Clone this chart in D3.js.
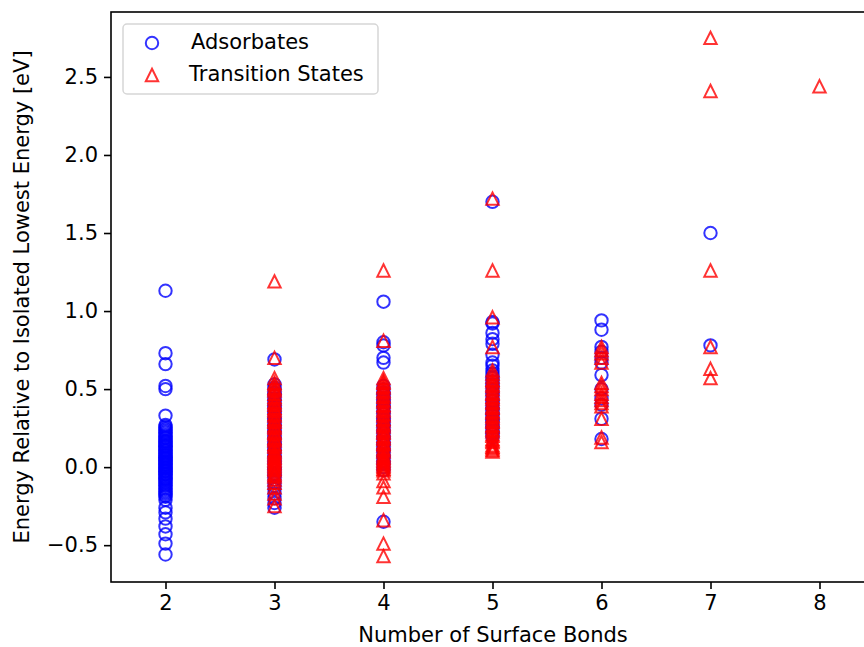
<!DOCTYPE html>
<meta charset="utf-8">
<script src="https://d3js.org/d3.v7.min.js"></script>
<style>
  body { margin: 0; background: #fff; }
  text { font-family: "DejaVu Sans", sans-serif; }
</style>
<div id="chart"></div>
<script>

// energies relative to isolated lowest energy [eV], grouped by number of surface bonds
var ads2 = [1.13, 0.73, 0.66, 0.52, 0.50, 0.33, 0.27, 0.26, 0.25, 0.24, 0.23, 0.22, 0.21, 0.20, 0.19, 0.185,
            0.17, 0.165, 0.16, 0.15, 0.14, 0.135, 0.13, 0.12, 0.11, 0.105, 0.10, 0.09, 0.08, 0.075, 0.07,
            0.06, 0.055, 0.05, 0.04, 0.035, 0.03, 0.02, 0.015, 0.01, 0.00, -0.005, -0.01, -0.02, -0.025,
            -0.03, -0.04, -0.045, -0.05, -0.06, -0.07, -0.075, -0.08, -0.09, -0.10, -0.11, -0.12, -0.13,
            -0.14, -0.15, -0.16, -0.17, -0.18, -0.19, -0.21, -0.26, -0.29, -0.33, -0.38, -0.43, -0.49, -0.56];
var ads3 = [0.69, 0.53, 0.51, 0.50, 0.48, 0.47, 0.46, 0.44, 0.43, 0.42, 0.40, 0.39, 0.38, 0.36, 0.35, 0.34,
            0.32, 0.31, 0.30, 0.28, 0.27, 0.26, 0.24, 0.23, 0.22, 0.20, 0.19, 0.18, 0.16, 0.15, 0.14, 0.12,
            0.11, 0.10, 0.08, 0.07, 0.06, 0.04, 0.03, 0.02, 0.00, -0.01, -0.02, -0.04, -0.05, -0.06, -0.08,
            -0.10, -0.12, -0.14, -0.17, -0.20, -0.23, -0.26];
var ads4 = [1.06, 0.80, 0.78, 0.70, 0.67, 0.52, 0.50, 0.48, 0.47, 0.46, 0.44, 0.43, 0.42, 0.40, 0.39, 0.38,
            0.36, 0.35, 0.34, 0.32, 0.31, 0.30, 0.28, 0.27, 0.26, 0.24, 0.23, 0.22, 0.20, 0.19, 0.18, 0.16,
            0.15, 0.14, 0.12, 0.11, 0.10, 0.08, 0.07, 0.06, 0.04, 0.03, 0.02, 0.00, -0.02, -0.35];
var ads5 = [1.70, 0.93, 0.92, 0.86, 0.82, 0.79, 0.72, 0.67, 0.65, 0.62, 0.60, 0.58, 0.57, 0.55, 0.53, 0.52,
            0.50, 0.48, 0.47, 0.45, 0.43, 0.42, 0.40, 0.38, 0.37, 0.35, 0.34, 0.33, 0.31, 0.30, 0.29, 0.27,
            0.26, 0.25, 0.23, 0.22, 0.21, 0.19];
var ads6 = [0.94, 0.88, 0.77, 0.74, 0.70, 0.67, 0.59, 0.50, 0.44, 0.40, 0.31, 0.18];
var ads7 = [1.50, 0.78];

var ts3 = [1.19, 0.70, 0.57, 0.54, 0.53, 0.51, 0.50, 0.49, 0.47, 0.45, 0.44, 0.42, 0.41, 0.40, 0.38, 0.37,
           0.36, 0.34, 0.33, 0.31, 0.30, 0.29, 0.27, 0.26, 0.25, 0.23, 0.22, 0.21, 0.19, 0.18, 0.17, 0.15,
           0.14, 0.13, 0.11, 0.10, 0.09, 0.08, 0.07, 0.06, 0.05, 0.04, 0.03, 0.02, 0.01, 0.00, -0.01, -0.02,
           -0.04, -0.05, -0.06, -0.08, -0.10, -0.13, -0.17, -0.20, -0.25];
var ts4 = [1.26, 0.81, 0.57, 0.55, 0.54, 0.52, 0.51, 0.49, 0.48, 0.46, 0.45, 0.43, 0.42, 0.40, 0.39, 0.37,
           0.36, 0.34, 0.33, 0.31, 0.30, 0.28, 0.27, 0.26, 0.24, 0.23, 0.22, 0.20, 0.19, 0.18, 0.16, 0.15,
           0.14, 0.12, 0.11, 0.10, 0.08, 0.07, 0.06, 0.05, 0.04, 0.03, 0.02, 0.01, 0.00, -0.01, -0.02,
           -0.04, -0.09, -0.13, -0.19, -0.34, -0.49, -0.57];
var ts5 = [1.72, 1.26, 0.96, 0.77, 0.62, 0.60, 0.58, 0.56, 0.55, 0.53, 0.52, 0.50, 0.48, 0.47, 0.45, 0.44,
           0.42, 0.41, 0.39, 0.38, 0.36, 0.35, 0.33, 0.32, 0.30, 0.29, 0.27, 0.26, 0.24, 0.23, 0.21, 0.20,
           0.18, 0.17, 0.16, 0.14, 0.13, 0.12, 0.11, 0.10];
var ts6 = [0.77, 0.75, 0.73, 0.70, 0.67, 0.54, 0.52, 0.50, 0.47, 0.45, 0.43, 0.41, 0.39, 0.31, 0.19, 0.16];
var ts7 = [2.75, 2.41, 1.26, 0.77, 0.63, 0.57];
var ts8 = [2.44];

var xTicks = [2, 3, 4, 5, 6, 7, 8];
var yTicks = [-0.5, 0.0, 0.5, 1.0, 1.5, 2.0, 2.5];

function flatten(groups) {
  var out = [];
  groups.forEach(function(g) {
    g[1].forEach(function(v) { out.push({bonds: g[0], energy: v}); });
  });
  return out;
}
var adsorbates = flatten([[2, ads2], [3, ads3], [4, ads4], [5, ads5], [6, ads6], [7, ads7]]);
var transition = flatten([[3, ts3], [4, ts4], [5, ts5], [6, ts6], [7, ts7], [8, ts8]]);

var W = 864, H = 647;
var plotL = 111, plotT = 12, plotB = 582, plotR = 874;

var svg = d3.select("#chart").append("svg")
    .attr("width", W).attr("height", H);

var x = d3.scaleLinear().domain([1.5, 8.5]).range([plotL, plotR]);

// y limits with 5% padding around the data, like matplotlib
var all = adsorbates.concat(transition).map(function(d) { return d.energy; });
var lo = d3.min(all), hi = d3.max(all), pad = (hi - lo) * 0.05;
var y = d3.scaleLinear().domain([lo - pad, hi + pad]).range([plotB, plotT]);

var fontSize = "21px";

// axes
var gx = svg.append("g")
    .attr("transform", "translate(0," + plotB + ")")
    .call(d3.axisBottom(x).tickValues(xTicks).tickSize(7).tickPadding(6).tickFormat(d3.format("d")));
var gy = svg.append("g")
    .attr("transform", "translate(" + plotL + ",0)")
    .call(d3.axisLeft(y).tickValues(yTicks).tickSize(7).tickPadding(6).tickFormat(d3.format(".1f")));
[gx, gy].forEach(function(g) {
  g.select(".domain").remove();
  g.selectAll(".tick line").attr("stroke", "#000").attr("stroke-width", 1.6);
  g.selectAll(".tick text").attr("fill", "#000").style("font-size", fontSize)
    .style("font-family", "DejaVu Sans");
});

// frame
svg.append("rect")
    .attr("x", plotL).attr("y", plotT)
    .attr("width", plotR - plotL).attr("height", plotB - plotT)
    .attr("fill", "none").attr("stroke", "#000").attr("stroke-width", 1.6);

var r = 6.2;
var tri = d3.symbol().type({
  draw: function(ctx, s) {
    ctx.moveTo(0, -s); ctx.lineTo(s, s); ctx.lineTo(-s, s); ctx.closePath();
  }
}).size(r);

// adsorbates
svg.append("g").selectAll("circle")
  .data(adsorbates)
  .enter()
  .append("circle")
    .attr("cx", function(d) { return x(d.bonds); })
    .attr("cy", function(d) { return y(d.energy); })
    .attr("r", r)
    .attr("fill", "none")
    .attr("stroke", "blue")
    .attr("stroke-opacity", 0.8)
    .attr("stroke-width", 2);

// transition states
svg.append("g").selectAll("path")
  .data(transition)
  .enter()
  .append("path")
    .attr("d", tri)
    .attr("transform", function(d) { return "translate(" + x(d.bonds) + "," + y(d.energy) + ")"; })
    .attr("fill", "none")
    .attr("stroke", "red")
    .attr("stroke-opacity", 0.8)
    .attr("stroke-width", 2);

// axis labels
svg.append("text")
    .attr("x", 493).attr("y", 636)
    .attr("text-anchor", "middle").attr("dominant-baseline", "middle")
    .style("font-size", fontSize)
    .text("Number of Surface Bonds");
svg.append("text")
    .attr("transform", "translate(23," + (plotT + plotB) / 2 + ") rotate(-90)")
    .attr("text-anchor", "middle").attr("dominant-baseline", "middle")
    .style("font-size", fontSize)
    .text("Energy Relative to Isolated Lowest Energy [eV]");

// legend
var lg = svg.append("g");
lg.append("rect")
    .attr("x", 123).attr("y", 24).attr("width", 255).attr("height", 70).attr("rx", 4)
    .attr("fill", "#fff").attr("fill-opacity", 0.8)
    .attr("stroke", "#d6d6d6").attr("stroke-width", 1.5);
lg.append("circle")
    .attr("cx", 152).attr("cy", 43).attr("r", r)
    .attr("fill", "none").attr("stroke", "blue").attr("stroke-opacity", 0.8).attr("stroke-width", 2);
lg.append("path")
    .attr("d", tri).attr("transform", "translate(152,75)")
    .attr("fill", "none").attr("stroke", "red").attr("stroke-opacity", 0.8).attr("stroke-width", 2);
lg.append("text").attr("x", 191).attr("y", 43).attr("dominant-baseline", "middle")
    .style("font-size", fontSize).text("Adsorbates");
lg.append("text").attr("x", 189).attr("y", 75).attr("dominant-baseline", "middle")
    .style("font-size", fontSize).text("Transition States");

</script>
